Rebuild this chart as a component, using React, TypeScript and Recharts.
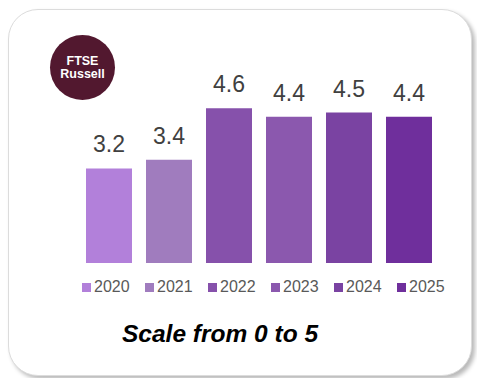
import React from 'react';
import { BarChart, Bar, XAxis, YAxis, Cell, LabelList } from 'recharts';

const years = ['2020', '2021', '2022', '2023', '2024', '2025'];
const scores = [3.2, 3.4, 4.6, 4.4, 4.5, 4.4];
const barColors = ['#B280DA', '#A07CBE', '#8651AB', '#8B58AE', '#7A43A2', '#6F2F9C'];

const data = years.map((y, i) => ({ year: y, score: scores[i] }));

const font = '"Liberation Sans", Arial, sans-serif';

export default function App() {
  return (
    <div style={{ position: 'absolute', left: 0, top: 0, width: 477, height: 378, background: '#fff' }}>
      {/* card frame */}
      <div
        style={{
          position: 'absolute',
          left: 8,
          top: 9,
          width: 462,
          height: 365,
          border: '1px solid #dcdcdc',
          borderRadius: 30,
          boxShadow: '3px 3px 4px rgba(0,0,0,0.28)',
          background: '#fff',
        }}
      />
      {/* logo */}
      <div
        style={{
          position: 'absolute',
          left: 50,
          top: 35,
          width: 65,
          height: 65,
          borderRadius: '50%',
          background: '#52182F',
          color: '#fff',
          fontFamily: font,
          fontWeight: 700,
          fontSize: 12.5,
          lineHeight: '13px',
          display: 'flex',
          flexDirection: 'column',
          alignItems: 'center',
          justifyContent: 'center',
        }}
      >
        <span>FTSE</span>
        <span>Russell</span>
      </div>
      <div style={{ position: 'absolute', left: 0, top: 0 }}>
        <BarChart
          width={477}
          height={378}
          data={data}
          margin={{ top: 91, right: 38, bottom: 115, left: 79 }}
          barSize={46}
        >
          <XAxis dataKey="year" hide />
          <YAxis domain={[1, 5]} hide />
          <Bar dataKey="score" isAnimationActive={false}>
            {data.map((d, i) => (
              <Cell key={d.year} fill={barColors[i]} />
            ))}
            <LabelList
              dataKey="score"
              position="top"
              offset={16}
              fill="#404040"
              fontSize={23}
              fontFamily={font}
            />
          </Bar>
        </BarChart>
      </div>
      {/* legend */}
      <div
        style={{
          position: 'absolute',
          left: 82,
          top: 278,
          display: 'flex',
          fontFamily: font,
          fontSize: 16,
          color: '#595959',
        }}
      >
        {years.map((y, i) => (
          <div key={y} style={{ display: 'flex', alignItems: 'center', width: 63 }}>
            <div style={{ width: 9, height: 9, background: barColors[i], marginRight: 3 }} />
            <span>{y}</span>
          </div>
        ))}
      </div>
      <div
        style={{
          position: 'absolute',
          left: 122,
          top: 320,
          fontFamily: font,
          fontWeight: 700,
          fontStyle: 'italic',
          fontSize: 24.5,
          color: '#000',
          whiteSpace: 'nowrap',
        }}
      >
        Scale from 0 to 5
      </div>
    </div>
  );
}
